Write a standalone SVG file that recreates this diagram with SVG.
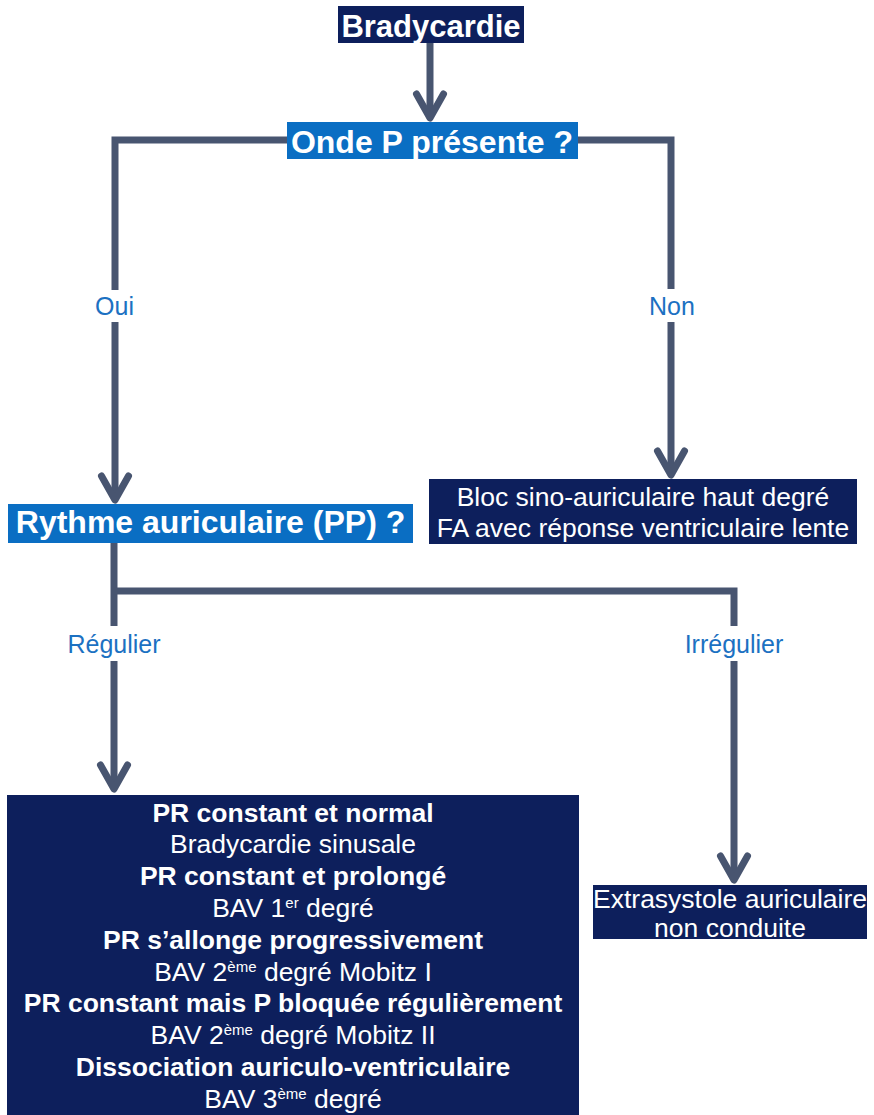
<svg xmlns="http://www.w3.org/2000/svg" width="874" height="1115" viewBox="0 0 874 1115">
  <defs>
    <style>
      .navy { fill: #0d1f5c; }
      .blue { fill: #0a6ec3; }
      .title { font-family: "Liberation Sans", Arial, sans-serif; font-weight: bold; fill: #ffffff; text-anchor: middle; }
      .txt { font-family: "Liberation Sans", Arial, sans-serif; font-size: 26.5px; fill: #ffffff; text-anchor: middle; }
      .b { font-weight: bold; }
      .sup { font-size: 15px; }
      .edge { fill: none; stroke: #485570; stroke-width: 7; marker-end: url(#chevron); }
      .lbl { font-family: "Liberation Sans", Arial, sans-serif; font-size: 25px; fill: #1c71c2; text-anchor: middle; }
      .lblbg { fill: #ffffff; }
    </style>
    <marker id="chevron" viewBox="-32 -22 40 44" markerWidth="40" markerHeight="44" refX="0" refY="0" markerUnits="userSpaceOnUse" orient="auto">
      <path d="M-24,-13.5 L0,0 L-24,13.5" fill="none" stroke="#485570" stroke-width="7" stroke-linecap="round" stroke-linejoin="round"/>
    </marker>
  </defs>

  <rect width="874" height="1115" fill="#ffffff"/>

  <!-- connectors -->
  <g id="connectors">
    <path class="edge" d="M430,43 L430,118"/>
    <path class="edge" d="M287,140 L115,140 L115,500"/>
    <path class="edge" d="M578,140 L671,140 L671,475"/>
    <path class="edge" d="M114,543 L114,789"/>
    <path class="edge" d="M114,591 L734,591 L734,880"/>
  </g>

  <!-- branch labels -->
  <g id="edge-labels">
    <rect class="lblbg" x="90" y="290" width="50" height="32"/>
    <text class="lbl" x="114.5" y="315">Oui</text>
    <rect class="lblbg" x="644" y="289" width="54" height="33"/>
    <text class="lbl" x="672" y="315">Non</text>
    <rect class="lblbg" x="62" y="626" width="104" height="35"/>
    <text class="lbl" x="114" y="653">Régulier</text>
    <rect class="lblbg" x="680" y="626" width="108" height="35"/>
    <text class="lbl" x="734" y="653">Irrégulier</text>
  </g>

  <g id="n-bradycardie">
    <rect class="navy" x="338" y="6" width="186" height="37"/>
    <text class="title" x="431" y="37" font-size="31">Bradycardie</text>
  </g>

  <g id="n-onde-p">
    <rect class="blue" x="287" y="122" width="291" height="37"/>
    <text class="title" x="432" y="153" font-size="32">Onde P présente ?</text>
  </g>

  <g id="n-rythme">
    <rect class="blue" x="8" y="504" width="405" height="39"/>
    <text class="title" x="210.5" y="533" font-size="32">Rythme auriculaire (PP) ?</text>
  </g>

  <g id="n-bloc-sa">
    <rect class="navy" x="429" y="479" width="428" height="65"/>
    <text class="txt" x="643" y="506">Bloc sino-auriculaire haut degré</text>
    <text class="txt" x="643" y="537">FA avec réponse ventriculaire lente</text>
  </g>

  <g id="n-extrasystole">
    <rect class="navy" x="593" y="885" width="274" height="54"/>
    <text class="txt" x="730" y="908" font-size="26">Extrasystole auriculaire</text>
    <text class="txt" x="730" y="937" font-size="26">non conduite</text>
  </g>

  <g id="n-pr">
    <rect class="navy" x="7" y="795" width="572" height="320"/>
    <text class="txt b" x="293" y="821.5">PR constant et normal</text>
    <text class="txt" x="293" y="853.3">Bradycardie sinusale</text>
    <text class="txt b" x="293" y="885.1">PR constant et prolongé</text>
    <text class="txt" x="293" y="916.9">BAV 1<tspan class="sup" dy="-9">er</tspan><tspan dy="9"> degré</tspan></text>
    <text class="txt b" x="293" y="948.7">PR s’allonge progressivement</text>
    <text class="txt" x="293" y="980.5">BAV 2<tspan class="sup" dy="-9">ème</tspan><tspan dy="9"> degré Mobitz I</tspan></text>
    <text class="txt b" x="293" y="1012.3">PR constant mais P bloquée régulièrement</text>
    <text class="txt" x="293" y="1044.1">BAV 2<tspan class="sup" dy="-9">ème</tspan><tspan dy="9"> degré Mobitz II</tspan></text>
    <text class="txt b" x="293" y="1075.9">Dissociation auriculo-ventriculaire</text>
    <text class="txt" x="293" y="1107.7">BAV 3<tspan class="sup" dy="-9">ème</tspan><tspan dy="9"> degré</tspan></text>
  </g>
</svg>
